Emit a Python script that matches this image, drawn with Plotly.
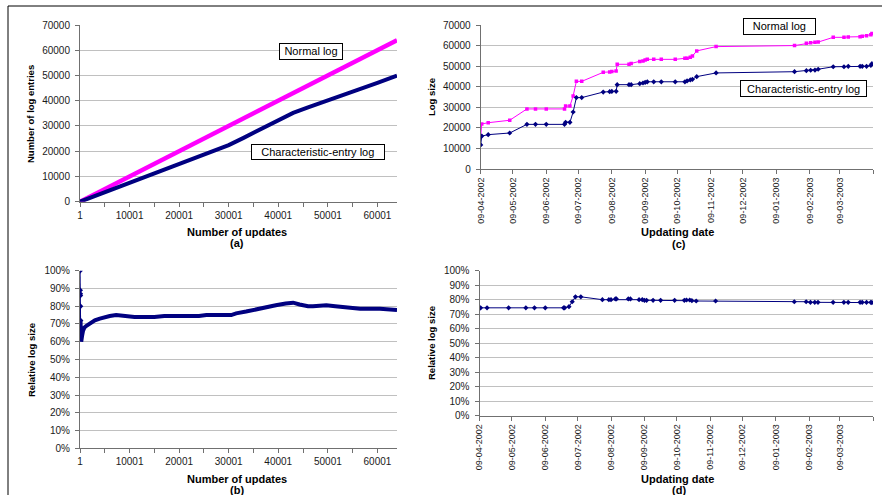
import plotly.graph_objects as go

W, H = 882, 495
FONT = "Liberation Sans, Arial, sans-serif"
NAVY = "#000080"
PINK = "#ff00ff"
AXIS = "#707070"
GRID = "#c0c0c0"

# ---- (a) log entries vs. number of updates ----
upd_ticks = [1, 10001, 20001, 30001, 40001, 50001, 60001]
upd_minor = [5001, 15001, 25001, 35001, 45001, 55001]
normal_upd = [1, 10001, 20001, 30001, 40001, 50001, 60001, 63950]
normal_entries = [0, 10000, 20000, 30000, 40000, 50000, 60000, 64000]
char_upd = [1, 2001, 5001, 10001, 15001, 20001, 25001, 30001, 33001, 36001,
            40001, 43001, 46001, 50001, 53001, 56001, 60001, 63950]
char_entries = [0, 1500, 3700, 7500, 11100, 14900, 18600, 22400, 25300, 28300,
                32400, 35200, 37400, 40300, 42300, 44300, 47100, 49900]

# ---- (b) relative log size vs. number of updates ----
rel_upd = [1, 20, 40, 60, 80, 100, 130, 160, 200, 250, 300, 400, 600, 900, 1300,
           2000, 3000, 4000, 5000, 6000, 7300, 9000, 11000, 15000, 17000, 24000,
           25500, 30500, 31500, 33500, 35000, 37000, 39500, 41500, 43000, 44300,
           46000, 47000, 49700, 51500, 53800, 56500, 60500, 62500, 63950]
rel_size = [1.00, 0.89, 0.87, 0.86, 0.80, 0.72, 0.70, 0.67, 0.63, 0.60, 0.61, 0.63,
            0.66, 0.68, 0.69, 0.705, 0.72, 0.73, 0.74, 0.745, 0.75, 0.745, 0.74,
            0.74, 0.745, 0.745, 0.75, 0.75, 0.76, 0.77, 0.78, 0.79, 0.805, 0.815,
            0.82, 0.81, 0.80, 0.80, 0.805, 0.80, 0.795, 0.786, 0.786, 0.779, 0.779]
SPIKE_END = 6  # first points (at the very start) are drawn with a thin line

# ---- (c)/(d) log size vs. updating date ----
dates = ["2002-04-09", "2002-04-10", "2002-04-16", "2002-05-06", "2002-05-22",
         "2002-05-30", "2002-06-09", "2002-06-26", "2002-06-27", "2002-07-01",
         "2002-07-04", "2002-07-07", "2002-07-12", "2002-08-01", "2002-08-07",
         "2002-08-09", "2002-08-13", "2002-08-14", "2002-08-25", "2002-08-27",
         "2002-09-04", "2002-09-07", "2002-09-09", "2002-09-11", "2002-09-17",
         "2002-09-24", "2002-10-07", "2002-10-16", "2002-10-18", "2002-10-21",
         "2002-10-23", "2002-10-27", "2002-11-14", "2003-01-26", "2003-02-06",
         "2003-02-10", "2003-02-14", "2003-02-17", "2003-03-03", "2003-03-13",
         "2003-03-17", "2003-03-28", "2003-03-30", "2003-04-03", "2003-04-07",
         "2003-04-08"]
normal_size = [16000, 21900, 22500, 23700, 29200, 29200, 29200, 29200, 30600, 30600,
               35500, 42600, 42600, 47000, 47200, 47400, 47600, 50900, 50900, 51300,
               52200, 52500, 53000, 53300, 53300, 53300, 53300, 53800, 53800, 54300,
               54900, 57400, 59500, 60000, 61100, 61400, 61600, 61700, 64000, 64000,
               64200, 64300, 64500, 64800, 65300, 65900]
char_size = [11700, 16000, 16700, 17500, 21700, 21700, 21700, 21700, 22700, 22700,
             27700, 34700, 34700, 37400, 37600, 37700, 37750, 41000, 41000, 41000,
             41500, 41800, 42100, 42400, 42400, 42400, 42400, 42400, 42800, 43300,
             43600, 44900, 46700, 47300, 47800, 48000, 48100, 48500, 49700, 49700,
             49900, 49900, 49900, 49900, 50400, 51200]
rel_date_size = [0.740, 0.744, 0.744, 0.744, 0.744, 0.744, 0.744, 0.744, 0.744, 0.752,
                 0.786, 0.820, 0.820, 0.800, 0.800, 0.800, 0.805, 0.805, 0.805, 0.805,
                 0.800, 0.800, 0.796, 0.796, 0.796, 0.796, 0.796, 0.796, 0.798, 0.798,
                 0.793, 0.791, 0.791, 0.786, 0.786, 0.782, 0.782, 0.782, 0.782, 0.782,
                 0.782, 0.782, 0.782, 0.782, 0.782, 0.780]
month_ticks = ["2002-04-09", "2002-05-09", "2002-06-09", "2002-07-09", "2002-08-09",
               "2002-09-09", "2002-10-09", "2002-11-09", "2002-12-09", "2003-01-09",
               "2003-02-09", "2003-03-09", "2003-04-09"]
month_labels = ["09-04-2002", "09-05-2002", "09-06-2002", "09-07-2002", "09-08-2002",
                "09-09-2002", "09-10-2002", "09-11-2002", "09-12-2002", "09-01-2003",
                "09-02-2003", "09-03-2003", ""]
size_ticks = [0, 10000, 20000, 30000, 40000, 50000, 60000, 70000]
pct_ticks = [0, 0.1, 0.2, 0.3, 0.4, 0.5, 0.6, 0.7, 0.8, 0.9, 1.0]


def fx(px):
    return px / W


def fy(py):
    return 1 - py / H


fig = go.Figure()

# (a)
fig.add_trace(go.Scatter(x=normal_upd, y=normal_entries, mode="lines",
                         line=dict(color=PINK, width=4.5), xaxis="x", yaxis="y"))
fig.add_trace(go.Scatter(x=char_upd, y=char_entries, mode="lines",
                         line=dict(color=NAVY, width=4), xaxis="x", yaxis="y"))
# (b)
fig.add_trace(go.Scatter(x=rel_upd[:SPIKE_END], y=rel_size[:SPIKE_END], mode="lines+markers",
                         line=dict(color=NAVY, width=1.2),
                         marker=dict(symbol="diamond", size=4.5, color=NAVY),
                         xaxis="x2", yaxis="y2"))
fig.add_trace(go.Scatter(x=rel_upd[SPIKE_END - 1:], y=rel_size[SPIKE_END - 1:], mode="lines",
                         line=dict(color=NAVY, width=4), xaxis="x2", yaxis="y2"))
# (c)
fig.add_trace(go.Scatter(x=dates, y=normal_size, mode="lines+markers",
                         line=dict(color=PINK, width=1),
                         marker=dict(symbol="square", size=3.5, color=PINK),
                         xaxis="x3", yaxis="y3"))
fig.add_trace(go.Scatter(x=dates, y=char_size, mode="lines+markers",
                         line=dict(color=NAVY, width=1),
                         marker=dict(symbol="diamond", size=4, color=NAVY),
                         xaxis="x3", yaxis="y3"))
# (d)
fig.add_trace(go.Scatter(x=dates, y=rel_date_size, mode="lines+markers",
                         line=dict(color=NAVY, width=1),
                         marker=dict(symbol="diamond", size=4, color=NAVY),
                         xaxis="x4", yaxis="y4"))

tickfont = dict(family=FONT, size=10, color="#1a1a1a")
datefont = dict(family=FONT, size=9, color="#1a1a1a")


def xaxis_updates(domain, anchor):
    return dict(domain=domain, anchor=anchor, range=[1, 63950], automargin=False,
                tickmode="array", tickvals=upd_ticks, ticktext=[str(v) for v in upd_ticks],
                showgrid=False, zeroline=False, showline=True, linecolor=AXIS,
                ticks="outside", ticklen=4, tickcolor=AXIS, tickfont=tickfont,
                minor=dict(tickvals=upd_minor, ticks="outside", ticklen=4, tickcolor=AXIS,
                           showgrid=False))


def xaxis_dates(domain, anchor):
    return dict(domain=domain, anchor=anchor, type="date", automargin=False,
                range=["2002-04-09", "2003-04-09"],
                tickmode="array", tickvals=month_ticks, ticktext=month_labels,
                tickangle=-90, showgrid=False, zeroline=False, showline=True,
                linecolor=AXIS, ticks="outside", ticklen=4, tickcolor=AXIS,
                tickfont=datefont)


def yaxis_common(domain, anchor, rng, vals, labels):
    return dict(domain=domain, anchor=anchor, range=rng, automargin=False,
                tickmode="array", tickvals=vals, ticktext=labels,
                showgrid=True, gridcolor=GRID, gridwidth=1, zeroline=False, showline=True,
                linecolor=AXIS, ticks="outside", ticklen=4, tickcolor=AXIS, tickfont=tickfont,
                ticklabelstandoff=3)


size_labels = [str(v) for v in size_ticks]
pct_labels = [f"{round(v * 100)}%" for v in pct_ticks]

fig.update_layout(
    width=W, height=H, margin=dict(l=0, r=0, t=0, b=0),
    paper_bgcolor="white", plot_bgcolor="white", showlegend=False,
    font=dict(family=FONT, color="#000"),
    xaxis=xaxis_updates([fx(80), fx(397)], "y"),
    yaxis=yaxis_common([fy(201.7), fy(25)], "x", [0, 70000], size_ticks, size_labels),
    xaxis2=xaxis_updates([fx(80), fx(397)], "y2"),
    yaxis2=yaxis_common([fy(448.3), fy(270.7)], "x2", [0, 1], pct_ticks, pct_labels),
    xaxis3=xaxis_dates([fx(480.7), fx(873)], "y3"),
    yaxis3=yaxis_common([fy(169), fy(25)], "x3", [0, 70000], size_ticks, size_labels),
    xaxis4=xaxis_dates([fx(479.5), fx(873)], "y4"),
    yaxis4=yaxis_common([fy(415.7), fy(270.7)], "x4", [0, 1], pct_ticks, pct_labels),
)

title_bold = dict(family=FONT, size=11, color="#000")
ytitle_bold = dict(family=FONT, size=9.5, color="#000")
annotations = []


def text(t, x, y, font, angle=0):
    annotations.append(dict(text=t, x=fx(x), y=fy(y), xref="paper", yref="paper",
                            showarrow=False, font=font, textangle=angle,
                            xanchor="center", yanchor="middle"))


def box(t, x0, x1, y0, y1):
    annotations.append(dict(text=t, x=fx((x0 + x1) / 2), y=fy((y0 + y1) / 2),
                            xref="paper", yref="paper", showarrow=False,
                            font=dict(family=FONT, size=11, color="#000"),
                            width=x1 - x0 - 2, height=y1 - y0 - 2, borderpad=0,
                            bordercolor="#000", borderwidth=1, bgcolor="white",
                            xanchor="center", yanchor="middle"))


# axis titles
text("<b>Number of log entries</b>", 30, 114, ytitle_bold, -90)
text("<b>Number of updates</b>", 237, 231.5, title_bold)
text("<b>(a)</b>", 237, 243.5, title_bold)
text("<b>Relative log size</b>", 31, 360, ytitle_bold, -90)
text("<b>Number of updates</b>", 237, 478.5, title_bold)
text("<b>(b)</b>", 237, 489.5, title_bold)
text("<b>Log size</b>", 431, 97, ytitle_bold, -90)
text("<b>Updating date</b>", 677, 231.5, title_bold)
text("<b>(c)</b>", 679, 244.5, title_bold)
text("<b>Relative log size</b>", 431, 343, ytitle_bold, -90)
text("<b>Updating date</b>", 677, 478.5, title_bold)
text("<b>(d)</b>", 679, 489.5, title_bold)

# series labels
box("Normal log", 279.3, 343.3, 42.7, 59.3)
box("Characteristic-entry log", 250.7, 384.3, 144, 160.3)
box("Normal log", 743.3, 816, 18.3, 35)
box("Characteristic-entry log", 740, 867.3, 80, 97.3)

fig.update_layout(annotations=annotations)

# outer frame
fig.add_shape(type="rect", xref="paper", yref="paper",
              x0=fx(8), x1=1.05, y0=-0.05, y1=fy(6),
              line=dict(color="#000", width=1), fillcolor="rgba(0,0,0,0)", layer="below")

fig.write_html("out.html")
